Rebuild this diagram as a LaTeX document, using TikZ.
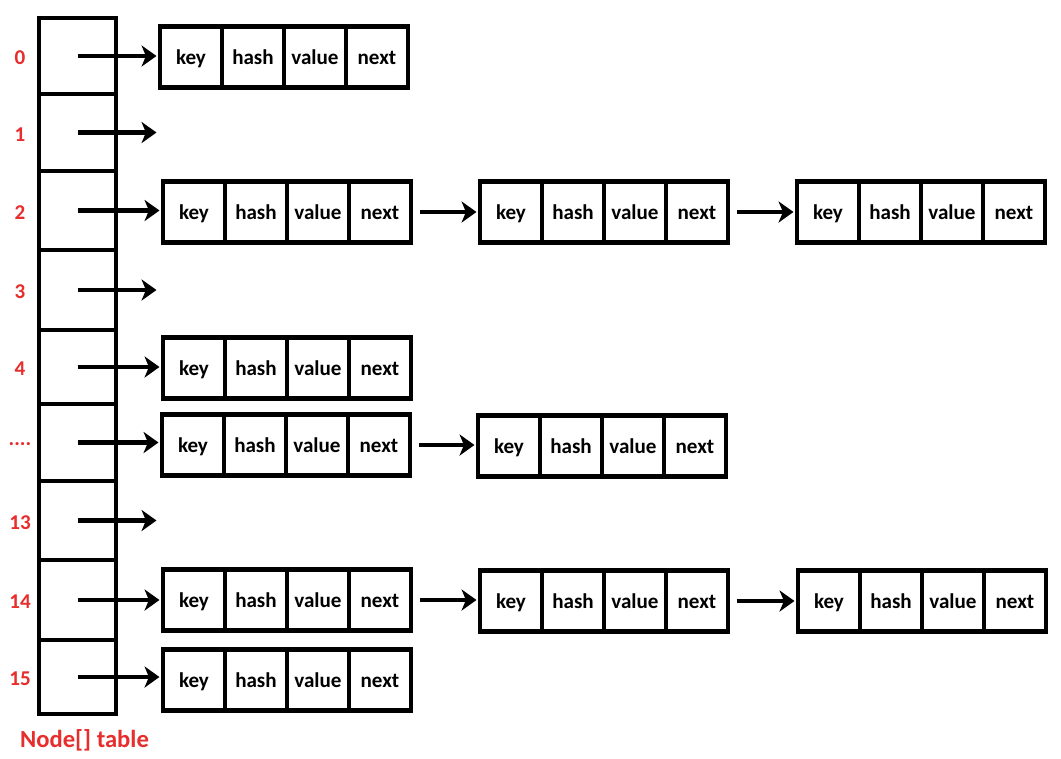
\documentclass[tikz,border=0pt]{standalone}
\usepackage{fontspec}
\setmainfont{Carlito}
\usetikzlibrary{arrows.meta,positioning}

\definecolor{idxred}{RGB}{232,45,45}
\newcommand{\dotslab}{....}
\newcommand{\entry}[3]{%
  \node[cell, anchor=west] (#1k) at (#2,#3) {key};
  \node[cell, right=0pt of #1k] (#1h) {hash};
  \node[cell, right=0pt of #1h] (#1v) {value};
  \node[cell, right=0pt of #1v] (#1n) {next};
}

\tikzset{
  slot/.style={draw, line width=2.3pt, minimum width=1.55cm, inner sep=0pt, outer sep=0pt},
  cell/.style={draw, line width=2.3pt, minimum width=1.24cm, minimum height=1.22cm,
    inner sep=0pt, outer sep=0pt, text height=2.1ex, text depth=0.3ex,
    font=\fontsize{12}{14}\selectfont\bfseries},
  idx/.style={text=idxred, font=\fontsize{12}{14}\selectfont\bfseries},
  ptr/.style={line width=2.3pt, -{Stealth[length=8.5pt,width=12pt,inset=2.5pt]}, shorten >=2pt}
}

\begin{document}
\begin{tikzpicture}[x=0.02cm,y=-0.02cm]
  \useasboundingbox[fill=white] (0,0) rectangle (1061,758);

  \foreach \n/\lab/\a/\b in {0/0/18/94, 1/1/94/171, 2/2/171/250, 3/3/250/330,
      4/4/330/404, 5/{\dotslab}/404/481, 13/13/481/560, 14/14/560/640, 15/15/640/714} {
    \node[slot, minimum height={(\b-\a)*0.02cm}] (t\n) at (77.5,{(\a+\b)/2}) {};
    \node[idx] (l\n) at (20,{(\a+\b)/2+2}) {\lab};
  }
  \node[idx, font=\fontsize{14}{16}\selectfont\bfseries, anchor=west] (name) at (14,740) {Node[] table};

  \entry{ea}{160}{57}
  \entry{eb}{163}{212}
  \entry{ec}{480}{212}
  \entry{ed}{797}{212}
  \entry{ee}{163}{368}
  \entry{ef}{162}{445}
  \entry{eg}{478}{446}
  \entry{eh}{163}{600}
  \entry{ei}{480}{601}
  \entry{ej}{798}{601}
  \entry{ek}{163}{680}

  \coordinate (f1) at (160,133);
  \coordinate (f3) at (160,290);
  \coordinate (f13) at (160,520);

  \draw[ptr] (t0.center) -- (t0.center -| eak.west);
  \draw[ptr] (t1.center) -- (t1.center -| f1);
  \draw[ptr] (t2.center) -- (t2.center -| ebk.west);
  \draw[ptr] (t3.center) -- (t3.center -| f3);
  \draw[ptr] (t4.center) -- (t4.center -| eek.west);
  \draw[ptr] (t5.center) -- (t5.center -| efk.west);
  \draw[ptr] (t13.center) -- (t13.center -| f13);
  \draw[ptr] (t14.center) -- (t14.center -| ehk.west);
  \draw[ptr] (t15.center) -- (t15.center -| ekk.west);

  \draw[ptr, shorten <=5pt] (ebn.east) -- (ebn.east -| eck.west);
  \draw[ptr, shorten <=5pt] (ecn.east) -- (ecn.east -| edk.west);
  \draw[ptr, shorten <=5pt] (efn.east) -- (efn.east -| egk.west);
  \draw[ptr, shorten <=5pt] (ehn.east) -- (ehn.east -| eik.west);
  \draw[ptr, shorten <=5pt] (ein.east) -- (ein.east -| ejk.west);
\end{tikzpicture}
\end{document}
